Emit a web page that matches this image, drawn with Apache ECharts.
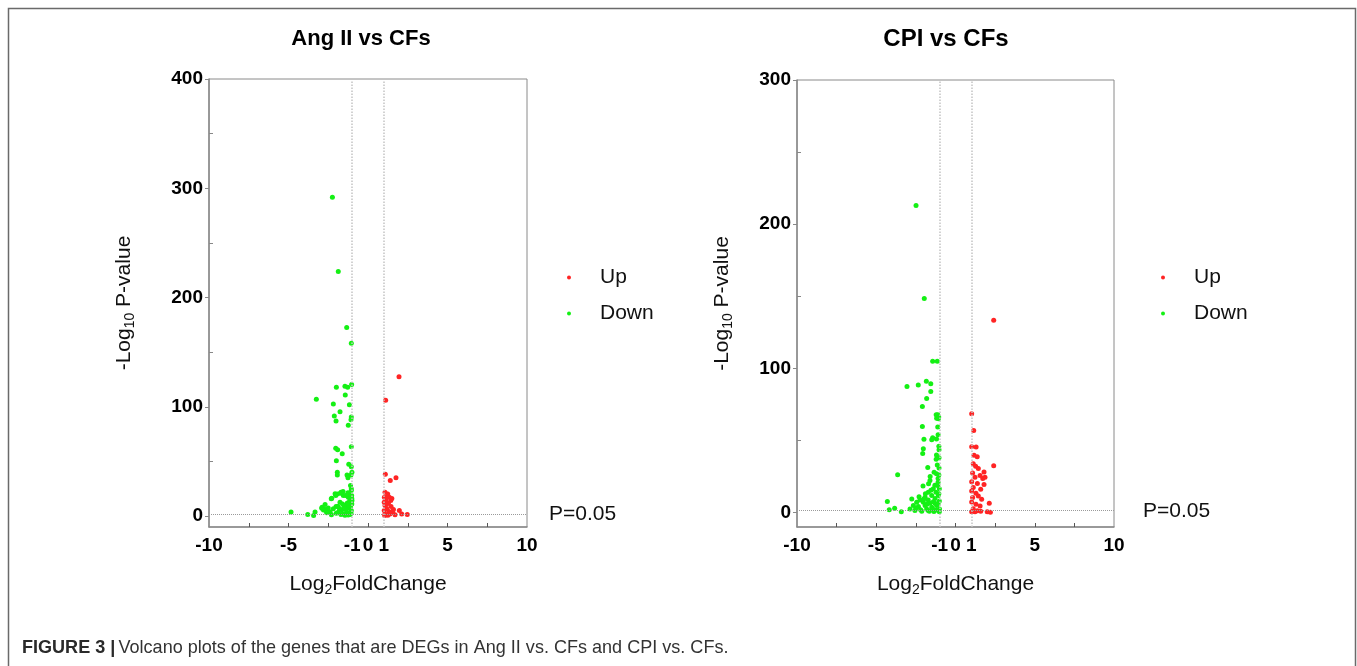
<!DOCTYPE html>
<html>
<head>
<meta charset="utf-8">
<script src="https://cdn.jsdelivr.net/npm/echarts@6/dist/echarts.min.js"></script>
<style>
  html, body { margin: 0; padding: 0; background: #fff; }
  #chart { width: 1357px; height: 666px; }
</style>
</head>
<body>
<div id="chart"></div>
<script>
// panel titles and caption
const panelTitles = ['Ang II vs CFs', 'CPI vs CFs']
const xLabelValues = [-10, -5, -1, 0, 1, 5, 10]
const xMinorTicks = [-7.5, -5, -2.5, 0, 2.5, 5, 7.5]
const angYLabels = [0, 100, 200, 300, 400]
const angYMinor = [50, 150, 250, 350]
const cpiYLabels = [0, 100, 200, 300]
const cpiYMinor = [50, 150, 250]
const pCut = 1.3 // -log10(0.05)

// Ang II vs CFs : [log2FC, -log10 p]
const angDown = [
  [-2.24, 291.7], [-1.87, 223.8], [-1.34, 172.5], [-1.05, 158.1], [-1.03, 120.3], [-1.45, 118.7],
  [-1.28, 118], [-1.99, 117.8], [-1.43, 110.7], [-3.25, 106.8], [-2.18, 102.5], [-1.17, 101.9],
  [-1.76, 95.5], [-2.12, 91.5], [-1.05, 90.6], [-1.07, 88.2], [-2.01, 86.9], [-1.24, 83.2],
  [-1.05, 63.4], [-2.03, 62.1], [-1.91, 60.7], [-1.62, 57], [-1.99, 50.6], [-1.21, 47.5],
  [-1.05, 45.1], [-1.93, 40], [-1.93, 37.7], [-1.01, 40.1], [-1.32, 37.7], [-1.07, 37.7], [-1.26, 35],
  [-2.07, 20.4], [-1.70, 21.8], [-1.05, 23.4], [-2.28, 16.3], [-1.55, 18.8], [-1.24, 17.2], [-1.03, 18.8],
  [-2.70, 10.5], [-2.91, 7.1], [-2.8, 5.5], [-2.56, 5], [-2.4, 4], [-1.76, 12.6], [-1.45, 9.6],
  [-1.24, 7.5], [-1.09, 11.7], [-1.01, 14.2], [-1.65, 5.7], [-1.34, 3.5], [-1.07, 2.6], [-1.87, 3.5],
  [-1.55, 2], [-1.13, 1.4], [-2.01, 8.7], [-2.18, 6.6], [-4.84, 3.8], [-3.79, 1.4], [-3.42, 0.5],
  [-3.33, 3.8], [-2.89, 8.1], [-2.77, 6.6], [-2.64, 5], [-2.50, 7.5], [-2.39, 3.5], [-2.31, 15.8],
  [-1.93, 20.3], [-2.03, 18.8], [-1.57, 22.4], [-1.26, 21.3], [-1.40, 18.8], [-1.74, 20.9],
  [-1.05, 5], [-1.1, 8], [-1.2, 10], [-1.3, 12], [-1.15, 14], [-1.02, 16], [-1.4, 6], [-1.5, 9],
  [-1.6, 11], [-1.8, 7], [-1.9, 9], [-1.05, 25], [-1.1, 28], [-1.15, 3], [-1.25, 1], [-1.45, 0.8],
  [-1.7, 1.5], [-2.0, 2.5], [-2.3, 1.2], [-2.6, 3], [-1.02, 11], [-1.08, 19]
]
const angUp = [
  [1.95, 127.6], [1.11, 105.9], [1.09, 38.3], [1.76, 35], [1.40, 32.5], [1.07, 21.8], [1.24, 20.3],
  [1.03, 17.2], [1.34, 17.2], [1.11, 14.8], [1.43, 14.2], [1.02, 12.6], [1.28, 11.7], [1.07, 9.6],
  [1.45, 8.7], [1.18, 6.6], [1.02, 5], [1.32, 4.1], [1.55, 3.5], [1.07, 2], [1.38, 2], [1.97, 5],
  [2.12, 2], [2.47, 1.4], [1.2, 17.5], [1.5, 16], [1.15, 10.5], [1.6, 6], [1.25, 0.8], [1.7, 1.2],
  [1.05, 0.5]
]

// CPI vs CFs
const cpiDown = [
  [-2.49, 213], [-1.97, 148.4], [-1.44, 104.9], [-1.15, 104.9], [-3.06, 87.5], [-2.35, 88.4],
  [-1.84, 91], [-1.56, 89.4], [-1.56, 84], [-1.82, 79.2], [-2.09, 73.6], [-1.22, 67.8], [-1.12, 67.8],
  [-1.06, 66.3], [-1.19, 65.4], [-1.08, 65], [-2.09, 59.7], [-1.12, 59.3], [-1.1, 54], [-1.2, 51],
  [-1.99, 50.9], [-1.44, 51.9], [-1.5, 50.5], [-1.05, 46], [-2.03, 44.2], [-1.04, 43.5], [-1.2, 40],
  [-1.04, 38], [-1.22, 37], [-2.07, 41], [-1.75, 31.3], [-1.04, 31], [-1.2, 27], [-1.1, 23.7],
  [-3.65, 26.2], [-1.7, 20], [-2.05, 18.4], [-4.3, 7.6], [-4.18, 1.9], [-3.84, 3], [-3.42, 0.5],
  [-2.76, 9.5], [-1.61, 22.2], [-1.12, 18.8], [-1.40, 16.5], [-1.02, 16.5], [-1.72, 14.1],
  [-1.23, 14.1], [-1.50, 11.8], [-1.08, 11.8], [-1.92, 10.6], [-2.24, 8.8], [-1.72, 8.8], [-1.29, 9.8],
  [-2.45, 7.2], [-2.03, 7.2], [-1.61, 6.5], [-1.02, 8], [-2.66, 4.9], [-2.34, 4.2], [-1.92, 4.9],
  [-1.50, 3.7], [-1.19, 4.9], [-1.01, 2.5], [-2.56, 1.4], [-2.13, 1], [-1.72, 1.4], [-1.36, 0.7],
  [-1.02, 0.5], [-2.87, 2.5], [-1.82, 2.5], [-1.29, 6.5], [-2.3, 11], [-1.9, 13], [-1.55, 15.5],
  [-1.1, 21], [-1.3, 19], [-1.05, 26], [-1.15, 33], [-1.35, 28], [-1.6, 25], [-2.5, 3], [-2.2, 2],
  [-1.65, 1], [-1.45, 2.8], [-1.2, 1.8], [-1.8, 5.8], [-2.0, 9.5], [-1.4, 7.5], [-1.1, 6], [-1.05, 13]
]
const cpiUp = [
  [2.41, 133.3], [1.02, 68.5], [1.15, 57], [1.02, 45.7], [1.3, 45.5], [1.17, 39.7], [1.37, 38.8],
  [2.41, 32.4], [1.12, 33.8], [1.27, 32.2], [1.44, 30.6], [1.80, 28.2], [1.08, 27.5], [1.55, 25.7],
  [1.23, 24.5], [1.72, 23.7], [1.02, 21.3], [1.38, 20.1], [1.12, 17.4], [1.59, 16.2], [1.02, 15.0],
  [1.29, 13.4], [1.44, 11.5], [1.08, 10.4], [1.65, 9.3], [1.02, 7.4], [1.29, 5.8], [1.55, 4.6],
  [1.12, 2.7], [1.38, 1.2], [1.02, 0.5], [1.23, 0.5], [1.59, 0.9], [2.13, 6.5], [2.0, 0.5],
  [2.2, 0.3], [1.8, 19.5], [1.86, 24.5]
]

const UP_COLOR = '#ff2424'
const DOWN_COLOR = '#14f014'
const AXIS_COLOR = '#8a8a8a'
const FONT = "'Liberation Sans', Arial, sans-serif"

const chart = echarts.init(document.getElementById('chart'))

const grids = [
  { left: 209, top: 79, width: 318, height: 448 },
  { left: 797, top: 80, width: 317, height: 447 }
]

const nameRich = {
  a: { fontSize: 21, fontFamily: FONT, color: '#111' },
  s: { fontSize: 14, fontFamily: FONT, color: '#111', verticalAlign: 'bottom', padding: [12, 0, 0, 0] }
}

const makeX = (gi, minor) => ({
  type: 'value', gridIndex: gi, min: -10, max: 10,
  position: 'bottom',
  name: minor ? '' : '{a|Log}{s|2}{a|FoldChange}',
  nameLocation: 'middle', nameGap: 44,
  nameTextStyle: { rich: nameRich },
  axisLine: { show: !minor, onZero: false, lineStyle: { color: AXIS_COLOR, width: 1.5 } },
  axisTick: minor
    ? { show: true, inside: true, length: 4, customValues: xMinorTicks, lineStyle: { color: '#555' } }
    : { show: false },
  axisLabel: minor
    ? { show: false }
    : { show: true, customValues: xLabelValues, margin: 9, fontSize: 19, fontWeight: 'bold', fontFamily: FONT, color: '#000' },
  splitLine: { show: false }
})

const makeY = (gi, max, labels, minorVals, nameGap, minor) => ({
  type: 'value', gridIndex: gi, min: -10, max: max,
  position: 'left',
  name: minor ? '' : '{a|-Log}{s|10}{a| P-value}',
  nameLocation: 'middle', nameGap: nameGap,
  nameTextStyle: { rich: nameRich },
  axisLine: { show: !minor, onZero: false, lineStyle: { color: AXIS_COLOR, width: 1.5 } },
  axisTick: minor
    ? { show: true, inside: true, length: 4, customValues: minorVals, lineStyle: { color: '#888' } }
    : { show: true, length: 4, customValues: labels, lineStyle: { color: '#888' } },
  axisLabel: minor
    ? { show: false }
    : { show: true, customValues: labels, margin: 6, fontSize: 19, fontWeight: 'bold', fontFamily: FONT, color: '#000' },
  splitLine: { show: false }
})

const refLines = (gi) => ({
  silent: true,
  symbol: 'none',
  animation: false,
  data: [
    {
      yAxis: pCut,
      lineStyle: { color: '#9a9a9a', type: 'dotted', width: 1 },
      label: {
        show: true, position: 'end', formatter: 'P=0.05', distance: gi === 0 ? 22 : 29,
        fontSize: 21, fontFamily: FONT, color: '#111'
      }
    },
    { xAxis: -1, lineStyle: { color: '#c4c4c4', type: 'dotted', width: 1.5 }, label: { show: false } },
    { xAxis: 1, lineStyle: { color: '#c4c4c4', type: 'dotted', width: 1.5 }, label: { show: false } }
  ]
})

const scatter = (name, data, color, gi, withLines) => ({
  name: name,
  type: 'scatter',
  xAxisIndex: gi * 2,
  yAxisIndex: gi * 2,
  data: data,
  symbolSize: 5,
  itemStyle: { color: color, opacity: 1 },
  markLine: withLines ? refLines(gi) : undefined,
  z: 3
})

const legendAt = (left) => ({
  orient: 'vertical',
  left: left,
  top: 262,
  icon: 'circle',
  itemWidth: 4,
  itemHeight: 4,
  itemGap: 15,
  data: ['Up', 'Down'],
  textStyle: { fontSize: 21, fontFamily: FONT, color: '#111', lineHeight: 21, padding: [0, 0, 0, 24] }
})

const option = {
  animation: false,
  backgroundColor: '#fff',
  textStyle: { fontFamily: FONT },
  title: [
    { text: panelTitles[0], left: 356, top: 23, textAlign: 'center',
      textStyle: { fontSize: 22, fontWeight: 'bold', fontFamily: FONT, color: '#000' } },
    { text: panelTitles[1], left: 941, top: 22, textAlign: 'center',
      textStyle: { fontSize: 24, fontWeight: 'bold', fontFamily: FONT, color: '#000' } }
  ],
  legend: [legendAt(562), legendAt(1156)],
  grid: grids.map(g => ({ ...g, show: true, borderColor: AXIS_COLOR, borderWidth: 1, backgroundColor: 'transparent' })),
  xAxis: [makeX(0, false), makeX(0, true), makeX(1, false), makeX(1, true)],
  yAxis: [
    makeY(0, 400, angYLabels, angYMinor, 72, false),
    makeY(0, 400, angYLabels, angYMinor, 72, true),
    makeY(1, 300, cpiYLabels, cpiYMinor, 62, false),
    makeY(1, 300, cpiYLabels, cpiYMinor, 62, true)
  ],
  series: [
    scatter('Up', angUp, UP_COLOR, 0, false),
    scatter('Down', angDown, DOWN_COLOR, 0, true),
    scatter('Up', cpiUp, UP_COLOR, 1, false),
    scatter('Down', cpiDown, DOWN_COLOR, 1, true)
  ],
  graphic: [
    {
      type: 'rect', silent: true,
      shape: { x: 8.5, y: 8.5, width: 1347, height: 700 },
      style: { fill: 'none', stroke: '#6a6a6a', lineWidth: 1.5 }
    },
    {
      type: 'text', x: 22, y: 638, scaleX: 0.95, silent: true,
      style: {
        text: '{b|FIGURE 3 |} {r|Volcano plots of the genes that are DEGs in Ang II vs. CFs and CPI vs. CFs.}',
        rich: {
          b: { fontSize: 19, fontWeight: 'bold', fontFamily: FONT, fill: '#2a2a2a' },
          r: { fontSize: 19, fontFamily: FONT, fill: '#333' }
        }
      }
    }
  ]
}

chart.setOption(option)
</script>
</body>
</html>
